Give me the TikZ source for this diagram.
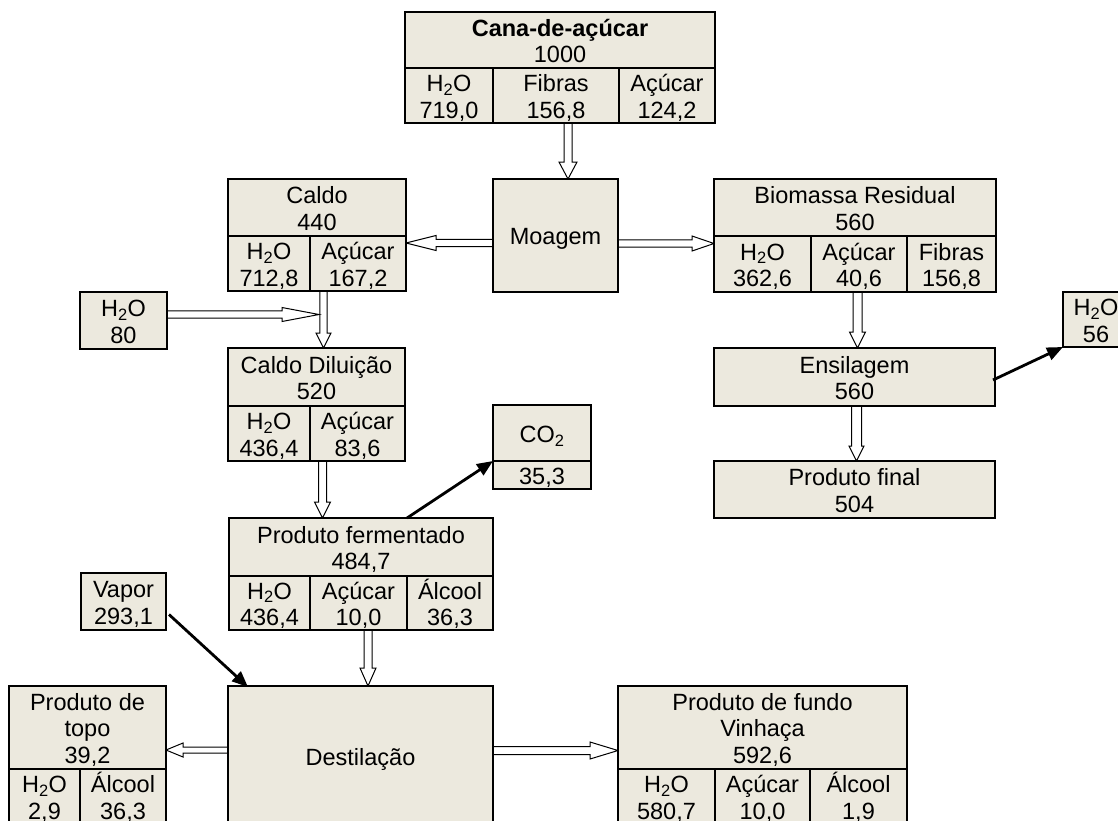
\documentclass[tikz,border=0pt]{standalone}
\usepackage{fontspec}
\setmainfont{Liberation Sans}
\usetikzlibrary{calc,arrows.meta}
\definecolor{cellfill}{RGB}{236,233,222}
\newcommand\water{H\textsubscript{2}O}
\newcommand\carbdiox{CO\textsubscript{2}}
% table-like box: name, left, top, right, bottom (y grows downwards)
\newcommand\cellbox[5]{\node[box, anchor=north west, minimum width=#4pt-#2pt, minimum height=#5pt-#3pt] (#1) at (#2,#3) {};}
% cell texts, set on baselines around the cell centre (name, x, y centre, lines)
\newcommand\oneline[4]{\node[txt] (#1) at (#2,#3+9.4) {#4};}
\newcommand\twolines[5]{\node[txt] (#1-a) at (#2,#3-3.85) {#4};\node[txt] (#1-b) at (#2,#3+22.65) {#5};}
\newcommand\threelines[6]{\node[txt] (#1-a) at (#2,#3-17.1) {#4};\node[txt] (#1-b) at (#2,#3+9.4) {#5};\node[txt] (#1-c) at (#2,#3+35.9) {#6};}
% hollow block arrow: tail, tip, half shaft width, half head width, head length
\newcommand\blockarrow[5]{%
  \coordinate (ba-t) at #1;
  \coordinate (ba-h) at #2;
  \coordinate (ba-b) at ($(ba-h)!#5!(ba-t)$);
  \draw[hollowarrow] ($(ba-t)!#3!90:(ba-h)$) -- ($(ba-b)!#3!90:(ba-h)$) -- ($(ba-b)!#4!90:(ba-h)$)
     -- (ba-h) -- ($(ba-b)!#4!-90:(ba-h)$) -- ($(ba-b)!#3!-90:(ba-h)$) -- ($(ba-t)!#3!-90:(ba-h)$) -- cycle;
}
\begin{document}
\begin{tikzpicture}[x=1pt,y=-1pt,
  box/.style={draw=black, line width=2.2pt, fill=cellfill, rectangle, outer sep=0pt, inner sep=0pt},
  div/.style={line width=1.4pt},
  txt/.style={anchor=base, inner sep=0pt, font=\fontsize{23.5}{26.5}\selectfont},
  hollowarrow/.style={draw=black, line width=1pt, fill=white, line join=miter},
  solidarrow/.style={line width=2.8pt, -{Triangle[length=16pt,width=13pt]}}]

\useasboundingbox (0,0) rectangle (1118,820);
\clip (0,0) rectangle (1118,820);

% ---------- boxes ----------
\cellbox{cana}{405}{12}{715}{123}
\cellbox{moagem}{493}{179}{618}{292}
\cellbox{caldo}{228}{179}{406}{291}
\cellbox{bio}{714}{179}{996}{292}
\cellbox{aguaA}{80}{292}{167}{349}
\cellbox{dil}{228}{348}{405}{461}
\cellbox{co2}{493}{405}{591}{489}
\cellbox{ensil}{714}{348}{995}{406}
\cellbox{aguaB}{1063}{292}{1129}{347}
\cellbox{final}{714}{461}{995}{518}
\cellbox{ferm}{229}{518}{493}{630}
\cellbox{vapor}{81}{573}{166}{630}
\cellbox{dest}{228}{686}{493}{826}
\cellbox{topo}{9}{686}{166}{824}
\cellbox{fundo}{618}{686}{907}{824}

% ---------- hollow flow arrows ----------
\coordinate (junction) at (319,314.5);
\blockarrow{($(cana.south)+(8,0)$)}{($(moagem.north)+(12.5,0)$)}{4pt}{9pt}{17pt}
\blockarrow{($(moagem.west)+(0,7.5)$)}{($(caldo.east)+(0,8)$)}{3.7pt}{7.5pt}{30pt}
\blockarrow{($(moagem.east)+(0,8)$)}{($(bio.west)+(0,8)$)}{3.7pt}{7.5pt}{22pt}
\blockarrow{($(caldo.south)+(6.5,0)$)}{($(dil.north)+(7,0)$)}{3.7pt}{7.5pt}{15pt}
\blockarrow{($(aguaA.east)+(0,-6)$)}{(junction)}{3.7pt}{7pt}{37pt}
\blockarrow{($(dil.south)+(6,0)$)}{($(ferm.north)+(-38.5,0)$)}{4pt}{8pt}{16pt}
\blockarrow{($(ferm.south)+(7,0)$)}{($(dest.north)+(7.5,0)$)}{4pt}{8pt}{18pt}
\blockarrow{($(bio.south)+(2.5,0)$)}{($(ensil.north)+(3,0)$)}{4.5pt}{8pt}{16pt}
\blockarrow{($(ensil.south)+(2,0)$)}{($(final.north)+(2,0)$)}{5pt}{7.5pt}{15pt}
\blockarrow{($(dest.west)+(0,-6)$)}{($(topo.east)+(0,-5)$)}{3pt}{7pt}{17pt}
\blockarrow{($(dest.east)+(0,-5.5)$)}{($(fundo.west)+(0,-4.5)$)}{4pt}{8.5pt}{28pt}

% ---------- redraw boxes over arrow tails ----------
\cellbox{cana}{405}{12}{715}{123}
\cellbox{moagem}{493}{179}{618}{292}
\cellbox{caldo}{228}{179}{406}{291}
\cellbox{bio}{714}{179}{996}{292}
\cellbox{aguaA}{80}{292}{167}{349}
\cellbox{dil}{228}{348}{405}{461}
\cellbox{ensil}{714}{348}{995}{406}
\cellbox{final}{714}{461}{995}{518}
\cellbox{ferm}{229}{518}{493}{630}
\cellbox{dest}{228}{686}{493}{826}
\cellbox{topo}{9}{686}{166}{824}
\cellbox{fundo}{618}{686}{907}{824}

% ---------- cell dividers ----------
\draw[div] (405,68) -- (715,68) (493,68) -- (493,123) (619,68) -- (619,123);
\draw[div] (228,236) -- (406,236) (310,236) -- (310,291);
\draw[div] (714,236) -- (996,236) (811,236) -- (811,292) (907,236) -- (907,292);
\draw[div] (228,406) -- (405,406) (310,406) -- (310,461);
\draw[div] (493,461) -- (591,461);
\draw[div] (229,576) -- (493,576) (310,576) -- (310,630) (407,576) -- (407,630);
\draw[div] (9,769) -- (166,769) (80,769) -- (80,824);
\draw[div] (618,769) -- (907,769) (715,769) -- (715,824) (810,769) -- (810,824);

% ---------- texts ----------
\twolines{cana-h}{560}{40}{\textbf{Cana-de-açúcar}}{1000}
\twolines{cana-w}{449}{95.5}{\water}{719,0}
\twolines{cana-f}{556}{95.5}{Fibras}{156,8}
\twolines{cana-s}{667}{95.5}{Açúcar}{124,2}

\oneline{moagem-t}{555.5}{235.5}{Moagem}

\twolines{caldo-h}{317}{207.5}{Caldo}{440}
\twolines{caldo-w}{269}{263.5}{\water}{712,8}
\twolines{caldo-s}{358}{263.5}{Açúcar}{167,2}

\twolines{bio-h}{855}{207.5}{Biomassa Residual}{560}
\twolines{bio-w}{762.5}{264}{\water}{362,6}
\twolines{bio-s}{859}{264}{Açúcar}{40,6}
\twolines{bio-f}{951.5}{264}{Fibras}{156,8}

\twolines{aguaA-t}{123.5}{320.5}{\water}{80}

\twolines{dil-h}{316.5}{377}{Caldo Diluição}{520}
\twolines{dil-w}{269}{433.5}{\water}{436,4}
\twolines{dil-s}{357.5}{433.5}{Açúcar}{83,6}

\oneline{co2-h}{542}{433}{\carbdiox}
\oneline{co2-v}{542}{475}{35,3}

\twolines{ensil-t}{854.5}{377}{Ensilagem}{560}
\twolines{aguaB-t}{1096}{319.5}{\water}{56}
\twolines{final-t}{854.5}{489.5}{Produto final}{504}

\twolines{ferm-h}{361}{547}{Produto fermentado}{484,7}
\twolines{ferm-w}{269.5}{603}{\water}{436,4}
\twolines{ferm-s}{358.5}{603}{Açúcar}{10,0}
\twolines{ferm-a}{450}{603}{Álcool}{36,3}

\twolines{vapor-t}{123.5}{601.5}{Vapor}{293,1}

\oneline{dest-t}{360.5}{756}{Destilação}

\threelines{topo-h}{87.5}{727.5}{Produto de}{topo}{39,2}
\twolines{topo-w}{44.5}{796.5}{\water}{2,9}
\twolines{topo-a}{123}{796.5}{Álcool}{36,3}

\threelines{fundo-h}{762.5}{727.5}{Produto de fundo}{Vinhaça}{592,6}
\twolines{fundo-w}{666.5}{796.5}{\water}{580,7}
\twolines{fundo-s}{762.5}{796.5}{Açúcar}{10,0}
\twolines{fundo-a}{858.5}{796.5}{Álcool}{1,9}

% ---------- solid side-stream arrows ----------
\draw[solidarrow] ($(ensil.east)+(-2,3)$) -- (aguaB.south west);
\draw[solidarrow] ($(ferm.north)+(46,0)$) -- ($(co2.south west)+(0,-28)$);
\draw[solidarrow] ($(vapor.east)+(3,13)$) -- ($(dest.north west)+(20,1)$);
\end{tikzpicture}
\end{document}
